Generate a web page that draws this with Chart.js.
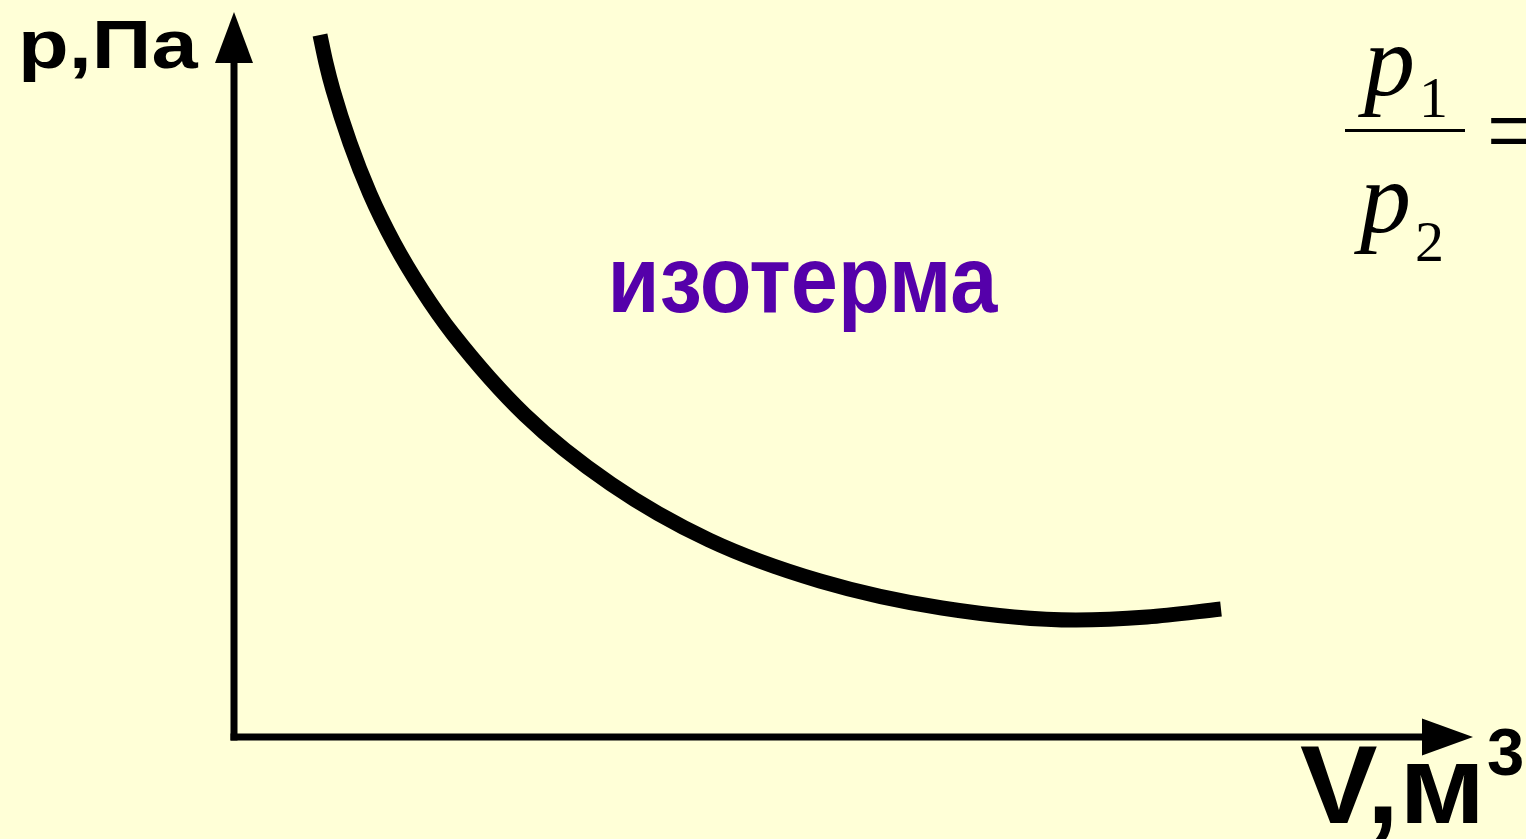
<!DOCTYPE html>
<html>
<head>
<meta charset="utf-8">
<script src="https://cdn.jsdelivr.net/npm/chart.js@4/dist/chart.umd.min.js"></script>
<style>
  html, body { margin: 0; padding: 0; background: #FFFFD7; }
  #wrap { position: relative; width: 1526px; height: 839px; }
</style>
</head>
<body>
<div id="wrap"><canvas id="c" width="1526" height="839"></canvas></div>
<script>
// ---- data (V and p in arbitrary units) ----
const volumes   = [0.86, 0.92, 0.99, 1.16, 1.36, 1.60, 1.88, 2.19, 2.91, 3.77, 4.75, 5.86, 7.08, 8.42, 9.13, 9.87];
const pressures = [7.02, 6.74, 6.47, 5.94, 5.43, 4.94, 4.47, 4.03, 3.22, 2.53, 1.97, 1.56, 1.29, 1.17, 1.20, 1.28];
const axisMax   = { v: 12.39, p: 7.25 };   // arrow tips
const scaleMax  = { v: 12.92, p: 7.37 };
const labels    = { y: 'p,Па', x: 'V,м', xSup: '3', curve: 'изотерма' };

const points = volumes.map((v, i) => ({ x: v, y: pressures[i] }));

function drawFit(ctx, text, font, left, baseline, targetW, color) {
  ctx.save();
  ctx.font = font;
  ctx.fillStyle = color;
  ctx.textBaseline = 'alphabetic';
  ctx.textAlign = 'left';
  const m = ctx.measureText(text);
  const inkW = m.actualBoundingBoxRight + m.actualBoundingBoxLeft;
  const sx = targetW ? targetW / inkW : 1;
  ctx.translate(left, baseline);
  ctx.scale(sx, 1);
  ctx.fillText(text, m.actualBoundingBoxLeft, 0);
  ctx.restore();
}

const decor = {
  id: 'decor',
  beforeDraw(chart) {
    const ctx = chart.ctx;
    ctx.save();
    ctx.fillStyle = '#FFFFD7';
    ctx.fillRect(0, 0, chart.width, chart.height);
    ctx.restore();
  },
  afterDatasetsDraw(chart) {
    const ctx = chart.ctx;
    const xs = chart.scales.x, ys = chart.scales.y;
    const x0 = xs.getPixelForValue(0), y0 = ys.getPixelForValue(0);
    const xt = xs.getPixelForValue(axisMax.v), yt = ys.getPixelForValue(axisMax.p);
    ctx.save();
    ctx.strokeStyle = '#000'; ctx.fillStyle = '#000';
    ctx.lineWidth = 7; ctx.lineCap = 'butt';
    // vertical axis
    ctx.beginPath(); ctx.moveTo(x0, y0 + 3.5); ctx.lineTo(x0, yt + 45); ctx.stroke();
    ctx.beginPath(); ctx.moveTo(x0, yt); ctx.lineTo(x0 - 19, yt + 51); ctx.lineTo(x0 + 19, yt + 51); ctx.closePath(); ctx.fill();
    // horizontal axis
    ctx.beginPath(); ctx.moveTo(x0 - 3.5, y0); ctx.lineTo(xt - 45, y0); ctx.stroke();
    ctx.beginPath(); ctx.moveTo(xt, y0); ctx.lineTo(xt - 51, y0 - 18.5); ctx.lineTo(xt - 51, y0 + 18.5); ctx.closePath(); ctx.fill();
    ctx.restore();

    // labels
    drawFit(ctx, labels.y, 'bold 68px "Liberation Sans", Arial, sans-serif', 23, 68, 176, '#000');
    drawFit(ctx, labels.curve, 'bold 94px "Liberation Sans", Arial, sans-serif', 613, 312, 385, '#5500AA');
    drawFit(ctx, labels.x, 'bold 112px "Liberation Sans", Arial, sans-serif', 1300, 823, 178, '#000');
    drawFit(ctx, labels.xSup, 'bold 67px "Liberation Sans", Arial, sans-serif', 1488, 775, 0, '#000');

    // formula p1/p2 =
    const it = 'italic 102px "Liberation Serif", "Times New Roman", serif';
    const sub = '58px "Liberation Serif", "Times New Roman", serif';
    drawFit(ctx, 'p', it, 1358, 95, 0, '#000');
    drawFit(ctx, '1', sub, 1424, 117, 0, '#000');
    drawFit(ctx, 'p', it, 1354, 232, 0, '#000');
    drawFit(ctx, '2', sub, 1417, 261, 0, '#000');
    ctx.save();
    ctx.fillStyle = '#000';
    ctx.fillRect(1345, 129, 120, 3);
    ctx.restore();
    drawFit(ctx, '=', '104px "Liberation Serif", "Times New Roman", serif', 1491, 166, 0, '#000');
  }
};

new Chart(document.getElementById('c'), {
  type: 'scatter',
  data: {
    datasets: [{
      data: points,
      showLine: true,
      borderColor: '#000',
      borderWidth: 15,
      borderCapStyle: 'butt',
      pointRadius: 0,
      cubicInterpolationMode: 'monotone',
      fill: false
    }]
  },
  options: {
    responsive: false,
    animation: false,
    devicePixelRatio: 1,
    layout: { padding: { left: 234, right: 0, top: 0, bottom: 102 } },
    plugins: { legend: { display: false }, tooltip: { enabled: false } },
    scales: {
      x: { type: 'linear', display: false, min: 0, max: scaleMax.v },
      y: { type: 'linear', display: false, min: 0, max: scaleMax.p }
    }
  },
  plugins: [decor]
});
</script>
</body>
</html>
